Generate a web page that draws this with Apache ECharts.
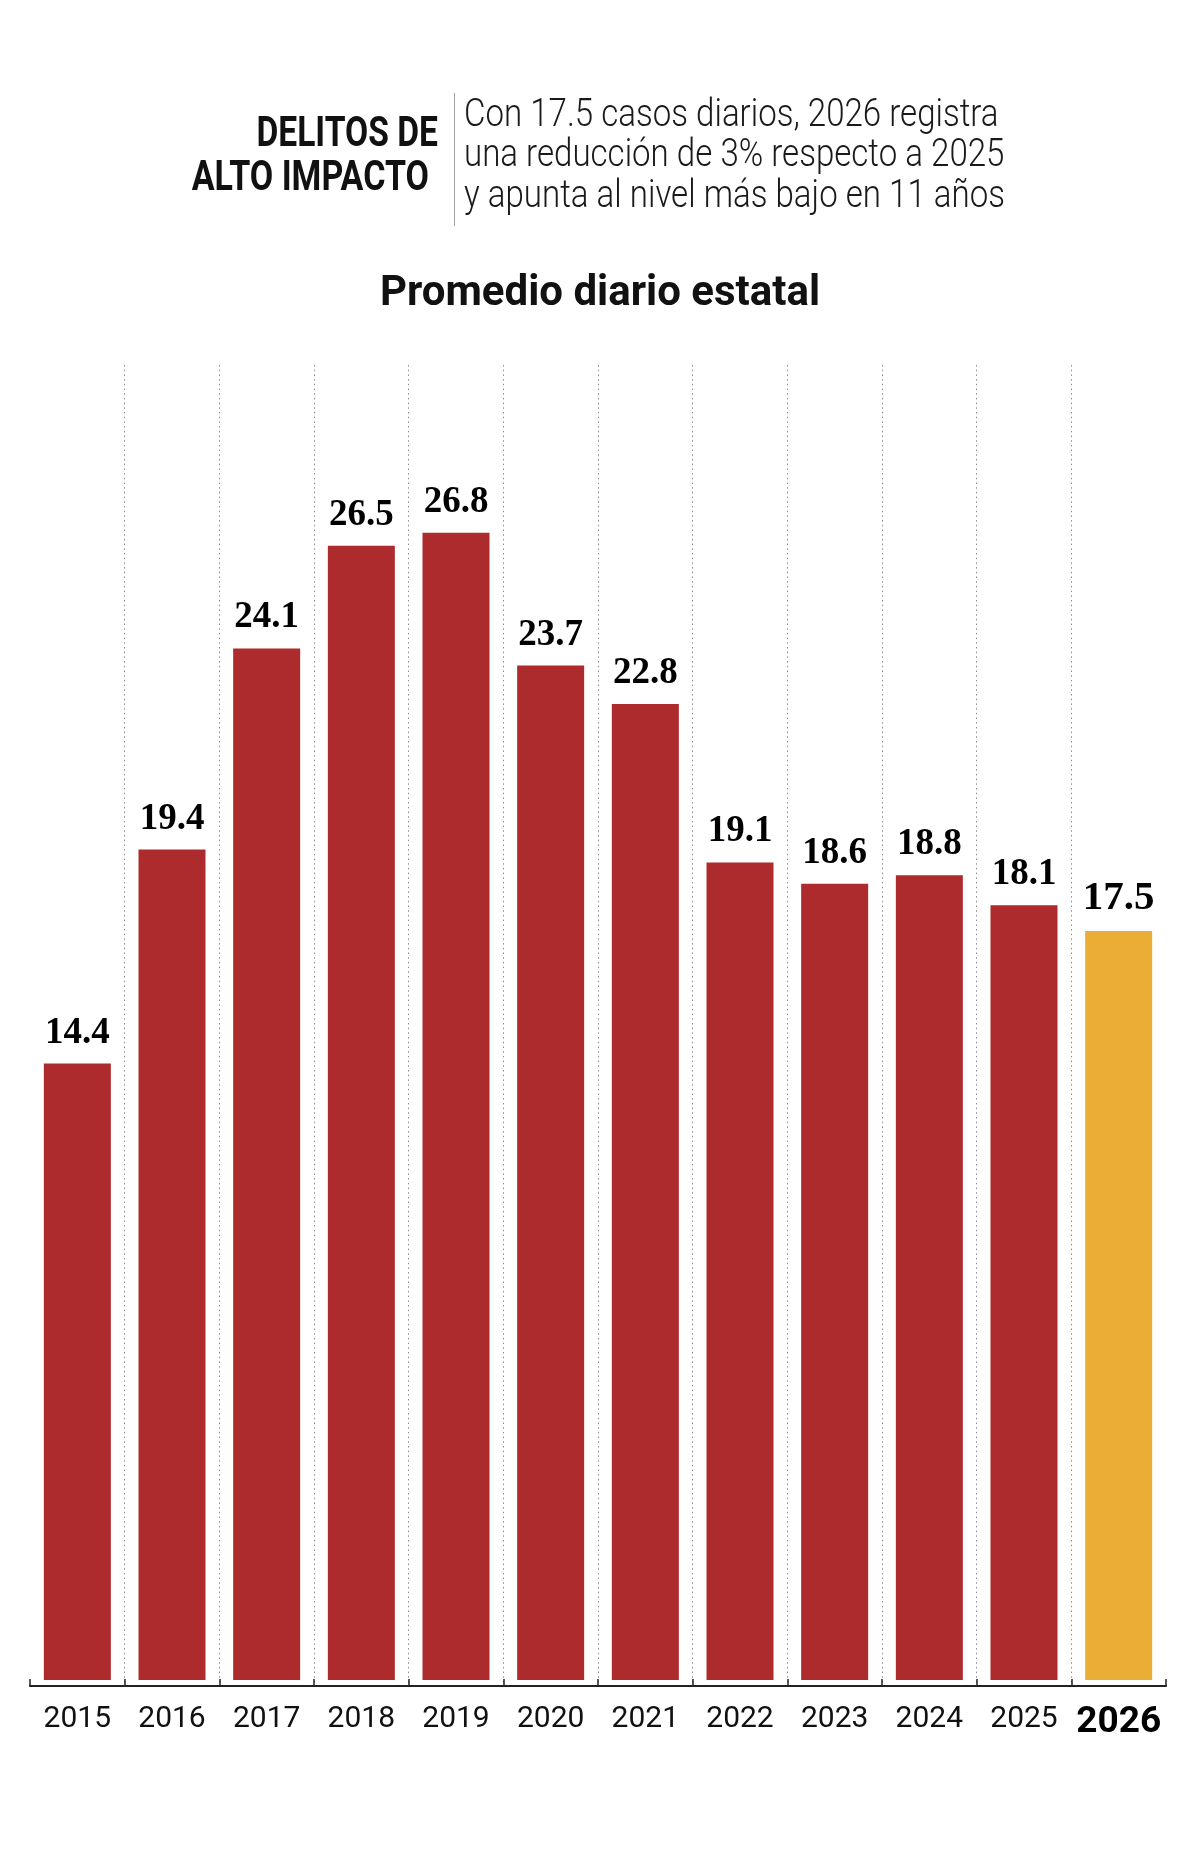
<!DOCTYPE html>
<html>
<head>
<meta charset="utf-8">
<script src="https://cdn.jsdelivr.net/npm/echarts@6/dist/echarts.min.js"></script>
<style>
  html, body { margin: 0; padding: 0; background: #fff; }
  #chart { width: 1200px; height: 1867px; }
</style>
</head>
<body>
<div id="chart"></div>
<script>
// data
const years = ["2015", "2016", "2017", "2018", "2019", "2020", "2021", "2022", "2023", "2024", "2025", "2026"];
const values = [14.4, 19.4, 24.1, 26.5, 26.8, 23.7, 22.8, 19.1, 18.6, 18.8, 18.1, 17.5];
const highlightYear = "2026";

// texts
const headerLines = ["DELITOS DE", "ALTO IMPACTO"];
const introLines = [
  "Con 17.5 casos diarios, 2026 registra",
  "una reducción de 3% respecto a 2025",
  "y apunta al nivel más bajo en 11 años",
];
const chartTitle = "Promedio diario estatal";

const RED = "#AD2B2C";
const GOLD = "#EAAD36";

const myChart = echarts.init(document.getElementById("chart"));

const graphic = [
  {
    type: "text",
    x: 438,
    y: 135,
    scaleX: 0.8,
    style: {
      text: headerLines[0],
      fill: "#111",
      fontFamily: "Roboto",
      fontWeight: "bold",
      fontSize: 42,
      align: "right",
      verticalAlign: "middle",
    },
  },
  {
    type: "text",
    x: 429,
    y: 179,
    scaleX: 0.81,
    style: {
      text: headerLines[1],
      fill: "#111",
      fontFamily: "Roboto",
      fontWeight: "bold",
      fontSize: 42,
      align: "right",
      verticalAlign: "middle",
    },
  },
  {
    type: "line",
    shape: { x1: 454.5, y1: 93, x2: 454.5, y2: 226 },
    style: { stroke: "#a0a0a0", lineWidth: 1 },
  },
  {
    type: "text",
    left: "center",
    y: 294,
    style: {
      text: chartTitle,
      fill: "#111",
      fontFamily: "Roboto",
      fontWeight: "bold",
      fontSize: 42,
      verticalAlign: "middle",
    },
  },
];

introLines.forEach((line, i) => {
  graphic.push({
    type: "text",
    x: 464,
    y: 116 + i * 40.5,
    scaleX: 0.87,
    style: {
      text: line,
      fill: "#1a1a1a",
      fontFamily: "Roboto",
      fontWeight: 300,
      fontSize: 38,
      align: "left",
      verticalAlign: "middle",
    },
  });
});

const option = {
  animation: false,
  backgroundColor: "#ffffff",
  graphic: graphic,
  grid: {
    left: 30,
    right: 34,
    top: 365,
    bottom: 181,
    containLabel: false,
  },
  xAxis: {
    type: "category",
    data: years,
    axisLine: {
      onZero: false,
      lineStyle: { color: "#222", width: 2 },
    },
    axisTick: {
      show: true,
      inside: true,
      length: 7,
      interval: 0,
      lineStyle: { color: "#222", width: 1.5 },
    },
    splitLine: {
      show: true,
      interval: 0,
      showMinLine: false,
      showMaxLine: false,
      lineStyle: { color: "#8a8a8a", width: 1, type: [1.5, 3.2] },
    },
    axisLabel: {
      interval: 0,
      margin: 18,
      color: "#111",
      fontFamily: "Roboto",
      fontWeight: "normal",
      fontSize: 30,
      formatter: (val) => (val === highlightYear ? "{hl|" + val + "}" : val),
      rich: {
        hl: {
          fontFamily: "Roboto",
          fontWeight: "bold",
          fontSize: 37,
          color: "#000",
        },
      },
    },
  },
  yAxis: {
    type: "value",
    min: -0.14,
    max: 30.72,
    show: false,
    splitLine: { show: false },
  },
  series: [
    {
      type: "bar",
      barWidth: 67,
      data: values.map((v, i) =>
        years[i] === highlightYear
          ? { value: v, itemStyle: { color: GOLD }, label: { fontSize: 41 } }
          : v
      ),
      itemStyle: { color: RED },
      label: {
        show: true,
        position: "top",
        distance: 12,
        color: "#000",
        fontFamily: "Liberation Serif",
        fontWeight: "bold",
        fontSize: 37,
      },
    },
  ],
};

myChart.setOption(option);
</script>
</body>
</html>
